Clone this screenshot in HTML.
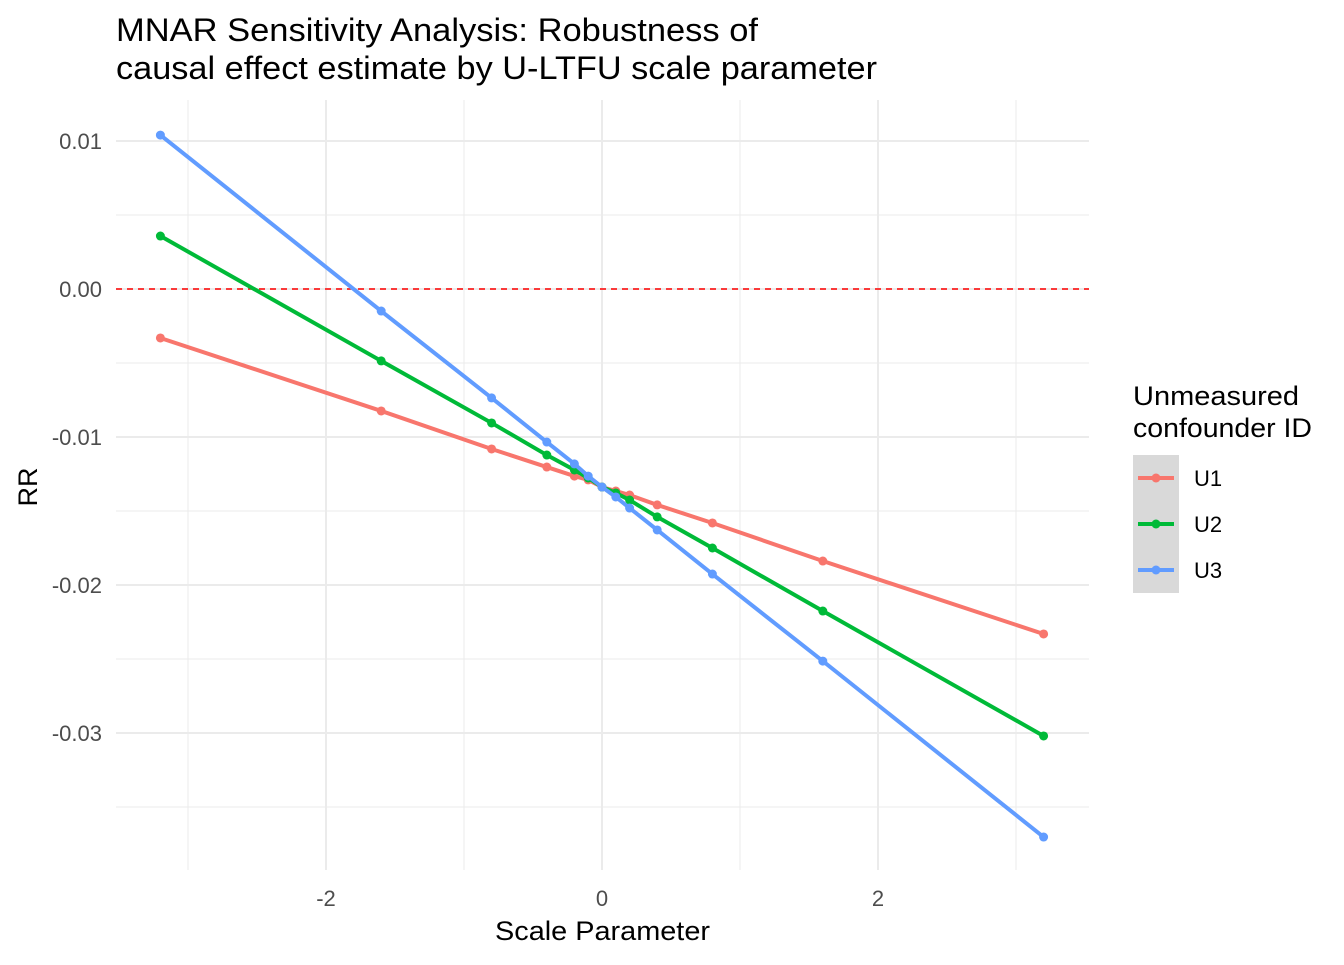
<!DOCTYPE html>
<html><head><meta charset="utf-8"><style>
body{margin:0;background:#fff;}
svg text{font-family:"Liberation Sans",Arial,sans-serif;}
</style></head><body>
<svg id="chart" width="1344" height="960">
<text x="116" y="41" font-size="32" fill="#000" textLength="642" lengthAdjust="spacingAndGlyphs">MNAR Sensitivity Analysis: Robustness of</text>
<text x="116" y="79" font-size="32" fill="#000" textLength="761" lengthAdjust="spacingAndGlyphs">causal effect estimate by U-LTFU scale parameter</text>
<g id="grid"></g>
<g id="axes"></g>
<g id="series"></g>
<text x="495" y="940" font-size="27" textLength="215" lengthAdjust="spacingAndGlyphs">Scale Parameter</text>
<text transform="translate(37,487) rotate(-90)" font-size="27" text-anchor="middle">RR</text>
<g>
<text x="1133" y="405" font-size="27" textLength="166" lengthAdjust="spacingAndGlyphs">Unmeasured</text>
<text x="1133" y="437" font-size="27" textLength="179" lengthAdjust="spacingAndGlyphs">confounder ID</text>
<rect x="1133" y="455" width="46" height="138" fill="#d9d9d9"/>
<g id="legend-entries"></g>
</g>
</svg>
<script>
const xs=[-3.2,-1.6,-0.8,-0.4,-0.2,-0.1,0,0.1,0.2,0.4,0.8,1.6,3.2];
const u1=[-0.00331,-0.00824,-0.01081,-0.01203,-0.01264,-0.0129,-0.01338,-0.01365,-0.01392,-0.01459,-0.01581,-0.01838,-0.02331];
const u2=[0.00358,-0.00486,-0.00905,-0.01122,-0.01223,-0.01277,-0.01338,-0.01378,-0.01426,-0.0154,-0.0175,-0.02176,-0.0302];
const u3=[0.0104,-0.00149,-0.00736,-0.01034,-0.01182,-0.01264,-0.01338,-0.01405,-0.0148,-0.01628,-0.01926,-0.02514,-0.03703];
const seriesNames=["U1","U2","U3"];
const colors=["#F8766D","#00BA38","#619CFF"];
const xTicks=[-2,0,2];
const xMinor=[-3,-1,1,3];
const yTicks=[0.01,0,-0.01,-0.02,-0.03];
const yTickLabels=["0.01","0.00","-0.01","-0.02","-0.03"];
const yMinor=[0.005,-0.005,-0.015,-0.025,-0.035];
const ns="http://www.w3.org/2000/svg";
const X=v=>602+v*138, Y=v=>289-v*14800;
const L=116,R=1089,T=100,B=870;
function mk(tag,attrs,parent){const e=document.createElementNS(ns,tag);for(const k in attrs)e.setAttribute(k,attrs[k]);parent.appendChild(e);return e;}
const grid=document.getElementById('grid'),axes=document.getElementById('axes'),ser=document.getElementById('series');
xMinor.forEach(v=>{const e=mk('line',{x1:X(v),x2:X(v),y1:T,y2:B,stroke:'#ebebeb','stroke-width':1},grid);

});
yMinor.forEach(v=>{const e=mk('line',{x1:L,x2:R,y1:Y(v),y2:Y(v),stroke:'#ebebeb','stroke-width':1},grid);

});
xTicks.forEach(v=>{const e=mk('line',{x1:X(v),x2:X(v),y1:T,y2:B,stroke:'#ebebeb','stroke-width':2},grid);


const t=mk('text',{x:X(v),y:906,'font-size':22,fill:'#4d4d4d','text-anchor':'middle'},axes);t.textContent=v;

});
yTicks.forEach((v,i)=>{const e=mk('line',{x1:L,x2:R,y1:Y(v),y2:Y(v),stroke:'#ebebeb','stroke-width':2},grid);


const t=mk('text',{x:102,y:Y(v)+8,'font-size':22,fill:'#4d4d4d','text-anchor':'end'},axes);t.textContent=yTickLabels[i];

});
const ref=mk('line',{x1:L,x2:R,y1:Y(0),y2:Y(0),stroke:'#ff0000','stroke-width':1.6,'stroke-dasharray':'6,5'},ser);


[u1,u2,u3].forEach((d,si)=>{
 const g=mk('g',{},ser);
 
 
 const p=mk('polyline',{points:xs.map((x,i)=>X(x)+','+Y(d[i])).join(' '),fill:'none',stroke:colors[si],'stroke-width':4},g);
 
 
 xs.forEach((x,i)=>{const c=mk('circle',{cx:X(x),cy:Y(d[i]),r:4.5,fill:colors[si]},g);
 
 });
});
const le=document.getElementById('legend-entries');
seriesNames.forEach((n,i)=>{const y=478+i*46;
 const g=mk('g',{},le);
 
 
 mk('line',{x1:1138,x2:1174,y1:y,y2:y,stroke:colors[i],'stroke-width':4},g);
 mk('circle',{cx:1156,cy:y,r:4.5,fill:colors[i]},g);
 const t=mk('text',{x:1194,y:y+8,'font-size':22,fill:'#000'},g);t.textContent=n;
});
</script>
</body></html>
